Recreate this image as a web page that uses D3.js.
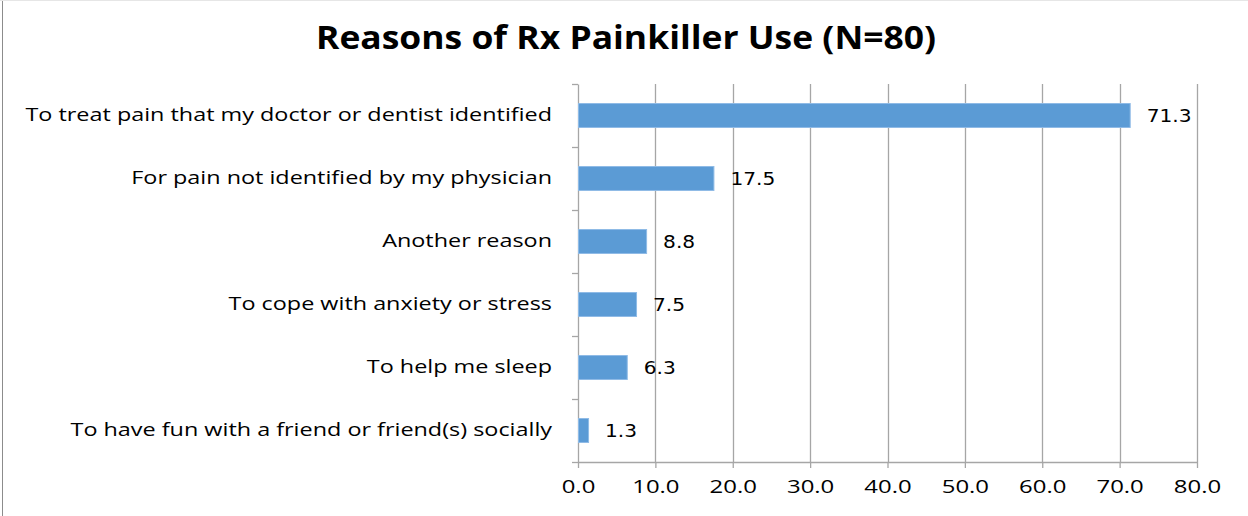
<!DOCTYPE html>
<html>
<head>
<meta charset="utf-8">
<script src="https://cdn.jsdelivr.net/npm/d3@7"></script>
<style>
  html, body { margin: 0; padding: 0; background: #fff; }
  svg { display: block; }
</style>
</head>
<body>
<div id="chart"></div>
<script>
const categories = [
  "To treat pain that my doctor or dentist identified ",
  "For pain not identified by my physician",
  "Another reason",
  "To cope with anxiety or stress",
  "To help me sleep",
  "To have fun with a friend or friend(s) socially"
];
const values = [71.3, 17.5, 8.8, 7.5, 6.3, 1.3];
const xTicks = [0, 10, 20, 30, 40, 50, 60, 70, 80];
const title = "Reasons of Rx Painkiller Use (N=80)";

const W = 1248, H = 516;
const margin = { left: 578, right: 51, top: 84, bottom: 54 };
const innerW = W - margin.left - margin.right;
const innerH = H - margin.top - margin.bottom;
const LABEL_FONT = "'Open Sans', sans-serif";
const VALUE_FONT = "'DejaVu Sans', sans-serif";
const catSx = 1.3, tickSx = 1.33, valSx = 1.12;

const svg = d3.select("#chart").append("svg").attr("width", W).attr("height", H);

// outer frame
svg.append("line").attr("x1", 2.5).attr("x2", 2.5).attr("y1", 0).attr("y2", H)
  .attr("stroke", "#8c8c8c").attr("stroke-width", 1);
svg.append("line").attr("x1", 0).attr("x2", W).attr("y1", 0.5).attr("y2", 0.5)
  .attr("stroke", "#e6e6e6").attr("stroke-width", 1);

svg.append("text")
  .attr("x", 626).attr("y", 49)
  .attr("text-anchor", "middle")
  .attr("font-family", LABEL_FONT)
  .attr("font-weight", "bold")
  .attr("font-size", 32)
  .attr("textLength", 620)
  .attr("lengthAdjust", "spacingAndGlyphs")
  .attr("fill", "#000")
  .text(title);

const x = d3.scaleLinear().domain([0, 80]).range([0, innerW]);
const y = d3.scaleBand().domain(categories).range([0, innerH]).paddingInner(0.62).paddingOuter(0.31);

const g = svg.append("g").attr("transform", `translate(${margin.left},${margin.top})`);

// gridlines
g.append("g").selectAll("line").data(xTicks.slice(1)).join("line")
  .attr("x1", d => Math.round(x(d)) + 0.5).attr("x2", d => Math.round(x(d)) + 0.5)
  .attr("y1", 0).attr("y2", innerH)
  .attr("stroke", "#a6a6a6").attr("stroke-width", 1.3);

// x axis
const xAxis = g.append("g").attr("transform", `translate(0,${innerH})`)
  .call(d3.axisBottom(x).tickValues(xTicks).tickFormat(d3.format(".1f")).tickSize(6).tickSizeOuter(0));
xAxis.select(".domain").attr("stroke", "#a6a6a6").attr("stroke-width", 1.3);
xAxis.selectAll(".tick line").attr("stroke", "#a6a6a6").attr("stroke-width", 1.3);
xAxis.selectAll("text")
  .attr("font-family", LABEL_FONT)
  .attr("font-size", 18).attr("fill", "#000").attr("dy", "1.2em")
  .attr("transform", `scale(${tickSx},1)`);

// y axis
const yAxis = g.append("g")
  .call(d3.axisLeft(y).tickSize(0).tickPadding(26));
yAxis.select(".domain").attr("stroke", "#a6a6a6").attr("stroke-width", 1.3);
yAxis.selectAll("text")
  .attr("font-family", LABEL_FONT)
  .attr("font-size", 18).attr("fill", "#000")
  .attr("x", -26 / catSx)
  .attr("transform", `scale(${catSx},1)`);
// category boundary ticks
g.append("g").selectAll("line").data(d3.range(categories.length + 1)).join("line")
  .attr("x1", -6).attr("x2", 0)
  .attr("y1", d => Math.round(d * innerH / categories.length) + 0.5)
  .attr("y2", d => Math.round(d * innerH / categories.length) + 0.5)
  .attr("stroke", "#a6a6a6").attr("stroke-width", 1.3);

// bars
g.append("g").selectAll("rect").data(values).join("rect")
  .attr("x", 0.5)
  .attr("y", (d, i) => y(categories[i]))
  .attr("width", d => x(d))
  .attr("height", y.bandwidth())
  .attr("fill", "#5B9BD5")
  .attr("stroke", "#8fbbe6").attr("stroke-width", 1);

// value labels
g.append("g").selectAll("text").data(values).join("text")
  .attr("x", d => (x(d) + 17) / valSx)
  .attr("y", (d, i) => y(categories[i]) + y.bandwidth() / 2)
  .attr("dy", "0.36em")
  .attr("transform", `scale(${valSx},1)`)
  .attr("font-family", VALUE_FONT)
  .attr("font-size", 18).attr("fill", "#000")
  .text(d => d3.format(".1f")(d));
</script>
</body>
</html>
